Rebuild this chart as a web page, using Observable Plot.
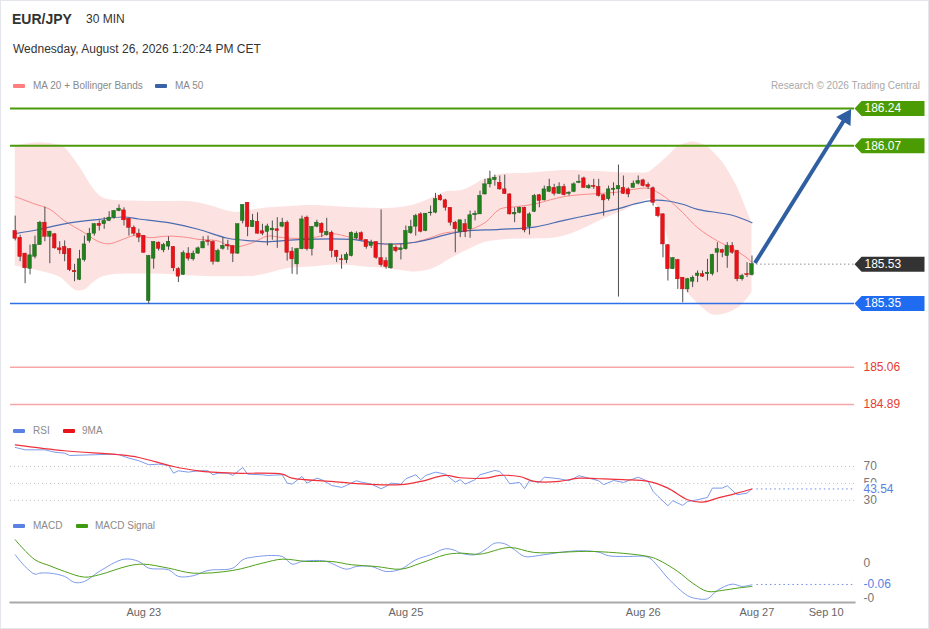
<!DOCTYPE html>
<html>
<head>
<meta charset="utf-8">
<script src="https://cdn.jsdelivr.net/npm/d3@7"></script>
<script src="https://cdn.jsdelivr.net/npm/@observablehq/plot@0.6"></script>
<style>
  html, body { margin: 0; padding: 0; background: #fff; }
  #card { position: absolute; left: 0; top: 0; width: 929px; height: 629px; box-sizing: border-box;
          border: 1px solid #e3e7eb; background: #fff; overflow: hidden;
          font-family: "Liberation Sans", Arial, sans-serif; }
  .abs { position: absolute; white-space: nowrap; }
  .leg { font-size: 10px; line-height: 10px; color: #8a8a8a; }
  .sw { position: absolute; width: 12px; height: 4px; border-radius: 1px; }
  .panel { position: absolute; left: -1px; }
</style>
</head>
<body>
<div id="card">
  <div class="abs" style="left:11px;top:11px;font-size:14px;line-height:14px;font-weight:bold;color:#333">EUR/JPY</div>
  <div class="abs" style="left:85px;top:12px;font-size:12px;line-height:12px;color:#333">30 MIN</div>
  <div class="abs" style="left:12px;top:42px;font-size:12px;line-height:12px;color:#333">Wednesday, August 26, 2026 1:20:24 PM CET</div>

  <div class="sw" style="left:12px;top:83px;background:#ff7f7f"></div>
  <div class="abs leg" style="left:32px;top:80px">MA 20 + Bollinger Bands</div>
  <div class="sw" style="left:154px;top:83px;background:#3a62a6"></div>
  <div class="abs leg" style="left:174px;top:80px">MA 50</div>
  <div class="abs leg" style="right:8px;top:80px;color:#a8a8a8">Research © 2026 Trading Central</div>

  <div id="main" class="panel" style="top:94px"></div>

  <div class="sw" style="left:12px;top:428px;background:#5b82e2"></div>
  <div class="abs leg" style="left:32px;top:425px">RSI</div>
  <div class="sw" style="left:62px;top:428px;background:#e8141c"></div>
  <div class="abs leg" style="left:81px;top:425px">9MA</div>
  <div id="rsi" class="panel" style="top:435px"></div>

  <div class="sw" style="left:12px;top:523px;background:#5b82e2"></div>
  <div class="abs leg" style="left:32px;top:520px">MACD</div>
  <div class="sw" style="left:75px;top:523px;background:#3e9a10"></div>
  <div class="abs leg" style="left:94px;top:520px">MACD Signal</div>
  <div id="macd" class="panel" style="top:530px"></div>
</div>
<script>
// ---------- Candles (30 min) ----------
const open = [185.681,185.650,185.578,185.509,185.564,185.617,185.719,185.655,185.666,185.602,
185.608,185.598,185.499,185.459,185.548,185.636,185.669,185.714,185.712,185.727,
185.742,185.772,185.775,185.737,185.696,185.669,185.658,185.362,185.555,185.628,
185.593,185.610,185.608,185.507,185.481,185.578,185.552,185.578,185.602,185.636,
185.631,185.541,185.600,185.617,185.613,185.578,185.727,185.810,185.699,185.723,
185.680,185.677,185.684,185.689,185.701,185.719,185.587,185.529,185.598,185.742,
185.598,185.701,185.714,185.663,185.673,185.590,185.552,185.548,185.567,185.648,
185.671,185.640,185.613,185.631,185.557,185.544,185.511,185.605,185.594,185.598,
185.671,185.701,185.757,185.681,185.762,185.765,185.841,185.821,185.787,185.719,
185.677,185.712,185.689,185.753,185.757,185.848,185.894,185.913,185.901,185.871,
185.848,185.757,185.764,185.787,185.699,185.769,185.844,185.821,185.860,185.878,
185.851,185.882,185.851,185.860,185.901,185.921,185.876,185.886,185.882,185.844,
185.826,185.869,185.871,185.878,185.871,185.878,185.897,185.912,185.891,185.876,
185.787,185.757,185.616,185.507,185.548,185.468,185.415,185.450,185.476,185.484,
185.484,185.484,185.582,185.594,185.567,185.613,185.590,185.461,185.484,185.480];
const high = [185.749,185.662,185.578,185.617,185.658,185.725,185.790,185.680,185.670,185.632,
185.636,185.600,185.529,185.593,185.658,185.693,185.715,185.728,185.742,185.769,
185.775,185.800,185.787,185.737,185.704,185.689,185.661,185.570,185.631,185.631,
185.625,185.655,185.610,185.514,185.590,185.605,185.590,185.608,185.655,185.658,
185.636,185.598,185.651,185.639,185.613,185.712,185.800,185.810,185.757,185.764,
185.712,185.712,185.727,185.742,185.739,185.727,185.605,185.602,185.749,185.749,
185.702,185.730,185.719,185.739,185.681,185.593,185.572,185.582,185.677,185.677,
185.677,185.640,185.639,185.631,185.777,185.559,185.620,185.613,185.620,185.704,
185.730,185.757,185.764,185.760,185.795,185.853,185.848,185.826,185.787,185.725,
185.730,185.734,185.772,185.772,185.863,185.917,185.954,185.936,185.932,185.936,
185.851,185.787,185.790,185.790,185.764,185.848,185.848,185.886,185.917,185.894,
185.901,185.894,185.860,185.901,185.936,185.927,185.894,185.917,185.917,185.848,
185.886,185.901,185.982,185.932,185.878,185.909,185.932,185.917,185.901,185.882,
185.790,185.760,185.620,185.560,185.552,185.468,185.465,185.476,185.499,185.499,
185.552,185.575,185.628,185.598,185.628,185.628,185.593,185.484,185.537,185.567];
const low = [185.636,185.541,185.441,185.481,185.554,185.617,185.632,185.532,185.598,185.575,
185.541,185.496,185.450,185.455,185.540,185.626,185.658,185.681,185.689,185.724,
185.735,185.769,185.704,185.658,185.658,185.628,185.580,185.347,185.507,185.590,
185.582,185.593,185.496,185.446,185.479,185.544,185.544,185.575,185.600,185.613,
185.526,185.537,185.594,185.593,185.537,185.575,185.714,185.655,185.697,185.667,
185.660,185.613,185.639,185.602,185.696,185.544,185.484,185.481,185.596,185.590,
185.567,185.696,185.651,185.658,185.559,185.537,185.507,185.532,185.563,185.640,
185.636,185.598,185.602,185.552,185.517,185.507,185.507,185.582,185.549,185.594,
185.666,185.658,185.673,185.678,185.749,185.760,185.818,185.772,185.704,185.582,
185.651,185.651,185.648,185.727,185.757,185.845,185.878,185.886,185.867,185.848,
185.754,185.719,185.760,185.673,185.663,185.765,185.787,185.818,185.856,185.841,
185.848,185.841,185.841,185.856,185.897,185.876,185.871,185.871,185.836,185.749,
185.818,185.841,185.380,185.848,185.833,185.876,185.891,185.882,185.871,185.795,
185.742,185.559,185.453,185.505,185.415,185.354,185.400,185.423,185.446,185.469,
185.453,185.476,185.491,185.559,185.511,185.575,185.450,185.453,185.469,185.476];
const close = [185.646,185.563,185.511,185.570,185.617,185.719,185.655,185.678,185.602,185.593,
185.575,185.503,185.493,185.552,185.620,185.669,185.712,185.704,185.727,185.742,
185.772,185.783,185.730,185.696,185.669,185.651,185.582,185.567,185.631,185.600,
185.617,185.632,185.511,185.473,185.580,185.555,185.578,185.602,185.631,185.631,
185.541,185.590,185.613,185.611,185.578,185.712,185.800,185.699,185.727,185.669,
185.669,185.702,185.692,185.681,185.719,185.582,185.552,185.598,185.734,185.598,
185.699,185.719,185.673,185.677,185.590,185.563,185.548,185.572,185.673,185.669,
185.640,185.608,185.628,185.559,185.525,185.517,185.620,185.590,185.602,185.681,
185.699,185.749,185.678,185.760,185.765,185.826,185.821,185.787,185.719,185.689,
185.730,185.677,185.753,185.760,185.841,185.894,185.917,185.924,185.871,185.850,
185.757,185.764,185.787,185.684,185.757,185.841,185.818,185.871,185.882,185.851,
185.882,185.845,185.856,185.894,185.906,185.878,185.886,185.882,185.841,185.821,
185.871,185.874,185.886,185.851,185.848,185.897,185.909,185.886,185.882,185.810,
185.749,185.620,185.507,185.557,185.461,185.415,185.461,185.468,185.487,185.473,
185.491,185.572,185.598,185.582,185.613,185.582,185.461,185.476,185.480,185.530];

// ---------- Indicators (sampled at candle index) ----------
const bandIdx   = [0,5,10,13,15,17,20,25,30,35,40,44,47,50,55,60,65,70,75,80,84,87,91,94,98,105,110,115,120,125,128,131,134,137,140,143,146,149];
const bandUpper = [186.068,186.091,186.068,185.977,185.900,185.832,185.818,185.818,185.813,185.822,185.795,185.763,185.772,185.786,185.791,185.800,185.791,185.786,185.782,185.791,185.827,185.863,185.863,185.909,185.941,185.945,185.959,185.955,185.950,185.945,185.945,186.000,186.068,186.091,186.068,186.000,185.886,185.718];
const lowIdx    = [0,5,9,12,14,17,20,25,30,35,40,45,50,55,60,65,70,75,80,84,88,91,95,100,105,110,115,119,123,127,129,131,133,135,138,141,144,147,149];
const bandLower = [185.522,185.499,185.476,185.408,185.408,185.472,185.485,185.485,185.485,185.476,185.472,185.472,185.476,185.517,185.513,185.531,185.517,185.513,185.490,185.499,185.554,185.590,185.631,185.645,185.645,185.645,185.690,185.736,185.772,185.818,185.832,185.750,185.544,185.422,185.349,185.294,185.303,185.340,185.399];

const ma20Idx = [0,4,7,10,14,17,19,21,23,25,27,31,35,37,41,44,48,51,54,58,61,64,68,71,74,78,81,84,87,91,95,98,101,105,108,111,115,118,122,125,128,130,132,135,138,142,145,148,149];
const ma20Val = [185.838,185.804,185.780,185.727,185.673,185.631,185.623,185.636,185.654,185.663,185.651,185.658,185.651,185.643,185.636,185.608,185.628,185.658,185.651,185.647,185.654,185.669,185.651,185.636,185.623,185.620,185.631,185.651,185.673,185.681,185.719,185.781,185.791,185.804,185.822,185.838,185.848,185.852,185.859,185.871,185.876,185.856,185.826,185.765,185.696,185.636,185.602,185.558,185.537];
const ma50Idx = [0,5,10,17,22,25,31,37,43,48,51,58,68,74,81,88,91,98,105,111,118,122,125,129,132,135,138,145,149];
const ma50Val = [185.669,185.689,185.714,185.734,185.745,185.736,185.719,185.689,185.648,185.636,185.632,185.643,185.643,185.623,185.630,185.669,185.681,185.689,185.699,185.730,185.763,185.783,185.803,185.821,185.818,185.803,185.780,185.753,185.719];

const rsiIdx = [0,2,6,8,10,11,16,20,21,23,25,27,29,31,32,33,35,37,39,40,41,43,44,46,47,50,51,54,55,56,58,59,61,62,64,66,67,69,70,72,74,75,76,78,79,81,82,83,85,87,89,90,91,93,94,97,98,99,100,102,103,104,106,107,109,110,112,114,116,118,119,121,123,126,128,129,130,132,133,135,136,138,140,141,143,144,146,148,149];
const rsiVal = [92.4,89.6,89.6,86.8,85.6,82.9,83.8,84.5,83.8,79.8,76.7,72.0,72.7,71.2,62.1,64.9,63.3,64.9,64.9,60.2,62.1,62.1,59.4,68.8,60.9,60.2,59.4,60.2,50.4,49.2,58.2,50.4,56.2,54.4,47.6,45.3,47.6,53.2,51.5,49.2,43.8,46.5,50.4,49.2,55.5,60.2,54.4,59.4,63.3,60.9,51.5,54.4,49.2,54.4,60.2,65.3,64.1,58.2,49.6,51.2,43.8,53.2,51.2,57.4,56.2,55.5,53.2,59.1,56.2,53.2,48.5,53.5,51.2,57.4,52.4,40.6,34.7,23.8,29.6,24.1,28.8,30.8,33.5,44.5,44.5,47.3,36.7,38.6,43.54];
const ma9Idx = [0,10,21,25,32,37,44,54,56,64,71,78,82,87,90,95,98,102,105,110,114,118,123,128,132,136,139,142,146,149];
const ma9Val = [95.5,88.5,83.8,80.6,70.0,64.9,62.1,60.9,56.2,52.4,49.2,48.5,52.4,59.4,56.7,56.2,59.4,58.2,52.4,52.4,56.2,55.5,54.4,52.4,44.5,30.8,28.0,32.7,38.6,43.5];

const macdIdx = [0,2,4,5,7,10,12,14,17,22,25,27,31,33,36,39,44,46,48,54,56,58,61,63,67,69,72,75,78,81,84,87,89,90,93,95,97,99,101,103,106,110,114,118,120,124,128,130,132,136,138,140,142,145,147,149];
const macdVal = [0.0249,-0.0086,-0.0306,-0.0277,-0.0277,-0.0371,-0.0543,-0.0514,-0.0229,0.0123,0.0057,-0.0134,-0.018,-0.0371,-0.0351,-0.02,-0.0134,0.0106,0.018,0.02,-0.002,0.0057,0.0086,0.0057,-0.0163,-0.0086,-0.0086,-0.0229,-0.0163,0.0106,0.0249,0.042,0.0371,0.03,0.0249,0.0391,0.058,0.0563,0.0391,0.02,0.0229,0.0314,0.0363,0.0323,0.022,0.02,0.018,-0.0086,-0.042,-0.0923,-0.1009,-0.1009,-0.0771,-0.0591,-0.0657,-0.0609];
const sigIdx = [0,4,7,10,14,17,23,26,31,36,44,50,54,59,64,68,73,78,82,87,90,94,100,105,117,128,130,134,137,140,143,146,149];
const sigVal = [0.0677,0.0106,-0.0066,-0.0229,-0.0391,-0.0323,-0.0066,-0.002,-0.0134,-0.0277,-0.02,0.0009,0.0123,0.0057,0.0057,-0.0037,-0.0086,-0.0163,0.0009,0.0249,0.0294,0.0266,0.0457,0.0314,0.0343,0.02,0.0106,-0.0229,-0.0563,-0.08,-0.0771,-0.0706,-0.0657];

// ---------- Levels and labels ----------
const resistance = [186.24, 186.07];
const lastPrice = 185.53;
const support = [185.35];
const lowerLevels = [185.06, 184.89];
const rsiTicks = [70, 50, 30];
const rsiLast = 43.54;
const macdTicks = [0, -0.1];
const macdTickLabels = ["0", "-0"];
const macdLast = -0.06;
const timeTickIdx = [26, 79, 127, 150, 164];
const timeTickLabels = ["Aug 23", "Aug 25", "Aug 26", "Aug 27", "Sep 10"];
// projected path: from last close to target level
const projection = [{i1: 149.6, p1: 185.535, i2: 168, p2: 186.20}];

// ---------- build ----------
const candles = open.map((o, i) => ({i, o, h: high[i], l: low[i], c: close[i], up: close[i] >= o}));
const allIdx = Array.from(new Set([...bandIdx, ...lowIdx])).sort((a, b) => a - b);
const upI = d3.scaleLinear().domain(bandIdx).range(bandUpper);
const loI = d3.scaleLinear().domain(lowIdx).range(bandLower);
const bandArea = allIdx.map(i => ({i, hi: upI(i), lo: loI(i)}));
const pairs = (I, V) => I.map((i, k) => ({i, v: V[k]}));

const font = "Liberation Sans, Arial, sans-serif";
const W = 929, ML = 10, MR = 74;
const X = {domain: [0, 149], range: [14.7, 752.3]};
// index at the right edge of the frame, where the level labels start
const xEdge = d3.scaleLinear(X.domain, X.range).invert(W - MR);
const common = {width: W, marginLeft: ML, marginRight: MR, marginTop: 0,
  style: {fontFamily: font, fontSize: "11px", background: "transparent", overflow: "visible"}};

const flag = {draw(ctx) {
  ctx.moveTo(-35, 0); ctx.lineTo(-28, -7.5); ctx.lineTo(35, -7.5);
  ctx.lineTo(35, 7.5); ctx.lineTo(-28, 7.5); ctx.closePath();
}};
const boxes = [
  {v: resistance[0], bg: "#4a9c02", fg: "#fff"},
  {v: resistance[1], bg: "#4a9c02", fg: "#fff"},
  {v: lastPrice, bg: "#333333", fg: "#fff"},
  {v: support[0], bg: "#1f6cf0", fg: "#fff"}
];
const reds = lowerLevels.map(v => ({v, fg: "#e63a32"}));

const main = Plot.plot({
  ...common, height: 320, marginBottom: 0,
  x: {...X, axis: null},
  y: {domain: [184.89, 186.24], range: [309.3, 13], axis: null},
  color: {type: "identity"},
  marks: [
    Plot.areaY(bandArea, {x: "i", y1: "lo", y2: "hi", fill: "#fde2e2", curve: "basis"}),
    Plot.ruleY(resistance, {stroke: "#4c9a0a", strokeWidth: 2}),
    Plot.ruleY(support, {stroke: "#2e6fe6", strokeWidth: 1.5}),
    Plot.ruleY(lowerLevels, {stroke: "#f6a6a6", strokeWidth: 1.5}),
    Plot.line(pairs(ma20Idx, ma20Val), {x: "i", y: "v", stroke: "#fb8a8a", strokeWidth: 1, curve: "catmull-rom"}),
    Plot.line(pairs(ma50Idx, ma50Val), {x: "i", y: "v", stroke: "#4a6cb0", strokeWidth: 1.2, curve: "catmull-rom"}),
    Plot.ruleX(candles, {x: "i", y1: "l", y2: "h", stroke: "#4d4d4d", strokeWidth: 1}),
    Plot.rect(candles, {x1: d => d.i - 0.36, x2: d => d.i + 0.36, y1: "o", y2: "c",
      fill: d => d.up ? "#22801c" : "#ea1218", stroke: d => d.up ? "#1d5e18" : "#b81010", strokeWidth: 0.5}),
    Plot.ruleY([lastPrice], {x1: 150, x2: xEdge, stroke: "#555", strokeDasharray: "1,3"}),
    Plot.link(projection, {x1: "i1", y1: "p1", x2: "i2", y2: "p2", stroke: "#2f5fa0", strokeWidth: 4}),
    Plot.dot(projection, {x: "i2", y: "p2", symbol: "triangle", r: 6.3, rotate: 32, fill: "#2f5fa0"}),
    Plot.dot(boxes, {y: "v", frameAnchor: "right", dx: 35, symbol: flag, r: 5, fill: "bg"}),
    Plot.text(boxes, {y: "v", text: d => d.v.toFixed(2), frameAnchor: "right", dx: 10, textAnchor: "start", fill: "fg", fontSize: 12}),
    Plot.text(reds, {y: "v", text: d => d.v.toFixed(2), frameAnchor: "right", dx: 9, textAnchor: "start", fill: "fg", fontSize: 12})
  ]
});
document.getElementById("main").appendChild(main);

const rsi = Plot.plot({
  ...common, height: 76, marginBottom: 0,
  x: {...X, axis: null},
  y: {domain: [30, 70], range: [64, 30], axis: null},
  marks: [
    Plot.ruleY(rsiTicks, {stroke: "#c2c2c2", strokeDasharray: "1,3"}),
    Plot.line(pairs(rsiIdx, rsiVal), {x: "i", y: "v", stroke: "#7d9be9", strokeWidth: 1}),
    Plot.line(pairs(ma9Idx, ma9Val), {x: "i", y: "v", stroke: "#f0303a", strokeWidth: 1.2, curve: "catmull-rom"}),
    Plot.ruleY([rsiLast], {x1: 150, x2: xEdge, stroke: "#6b8de6", strokeDasharray: "1.5,3"}),
    Plot.text(rsiTicks, {y: d => d, text: d => String(d), frameAnchor: "right", dx: 9, textAnchor: "start", fill: "#777", fontSize: 12}),
    Plot.text([rsiLast], {y: d => d, text: d => d.toFixed(2), frameAnchor: "right", dx: 9, textAnchor: "start", fill: "#5b82e2", stroke: "#fff", strokeWidth: 4, fontSize: 12})
  ]
});
document.getElementById("rsi").appendChild(rsi);

const macd = Plot.plot({
  ...common, height: 99, marginBottom: 28,
  x: {...X},
  y: {domain: [-0.1, 0], range: [67, 32], axis: null},
  marks: [
    Plot.frame({anchor: "bottom", stroke: "#aaa", strokeWidth: 2}),
    Plot.line(pairs(macdIdx, macdVal), {x: "i", y: "v", stroke: "#7d9be9", strokeWidth: 1, curve: "catmull-rom"}),
    Plot.line(pairs(sigIdx, sigVal), {x: "i", y: "v", stroke: "#4fa01a", strokeWidth: 1, curve: "catmull-rom"}),
    Plot.ruleY([macdLast], {x1: 150, x2: xEdge, stroke: "#6b8de6", strokeDasharray: "1.5,3"}),
    Plot.text(macdTicks, {y: d => d, text: (d, i) => macdTickLabels[i], frameAnchor: "right", dx: 9, textAnchor: "start", fill: "#777", fontSize: 12}),
    Plot.text([macdLast], {y: d => d, text: d => d.toFixed(2), frameAnchor: "right", dx: 9, textAnchor: "start", fill: "#5b82e2", stroke: "#fff", strokeWidth: 3, fontSize: 12}),
    Plot.axisX(timeTickIdx, {tickFormat: d => timeTickLabels[timeTickIdx.indexOf(d)], tickSize: 0, tickPadding: 6, fill: "#666", fontSize: 11, label: null})
  ]
});
document.getElementById("macd").appendChild(macd);
</script>
</body>
</html>
